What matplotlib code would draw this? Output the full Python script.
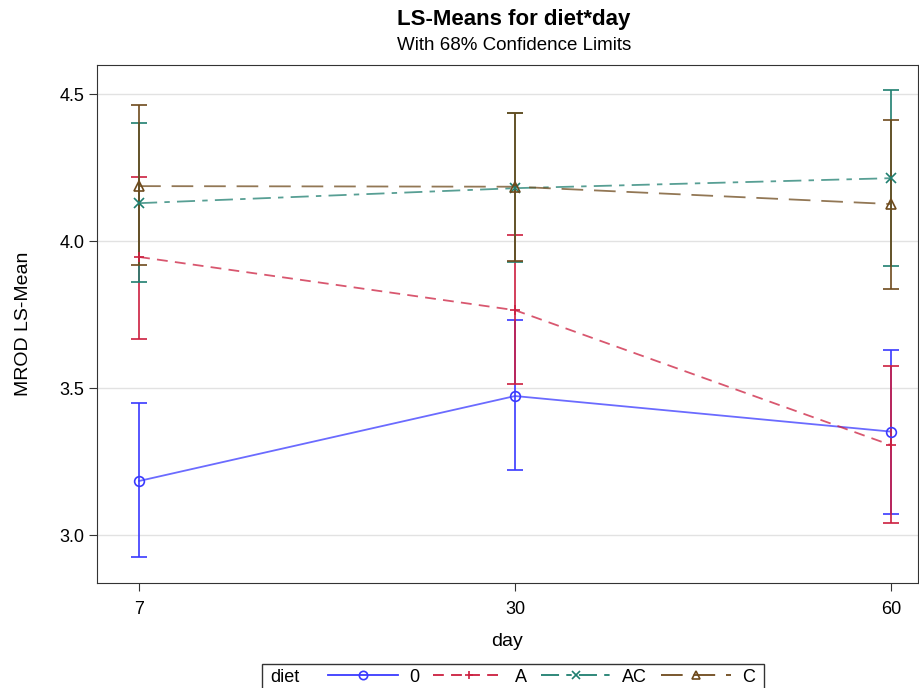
import matplotlib
matplotlib.use("Agg")
import matplotlib.pyplot as plt
from matplotlib.lines import Line2D
from matplotlib.patches import Rectangle

plt.rcParams['font.family'] = ['Liberation Sans', 'DejaVu Sans']

days = ["7", "30", "60"]
diets = ["0", "A", "AC", "C"]
means = {
    "0":  [3.184, 3.473, 3.352],
    "A":  [3.946, 3.765, 3.306],
    "AC": [4.129, 4.180, 4.214],
    "C":  [4.187, 4.185, 4.126],
}
upper = {
    "0":  [3.448, 3.731, 3.631],
    "A":  [4.218, 4.020, 3.575],
    "AC": [4.401, 4.435, 4.514],
    "C":  [4.463, 4.437, 4.412],
}
lower = {
    "0":  [2.925, 3.221, 3.071],
    "A":  [3.667, 3.514, 3.041],
    "AC": [3.861, 3.929, 3.915],
    "C":  [3.920, 3.931, 3.837],
}
colors = {"0": "#3a3aff", "A": "#cc1f3f", "AC": "#1f7f70", "C": "#6e4a1c"}
markers = {"0": "o", "A": "+", "AC": "x", "C": "^"}
linestyles = {"0": "-", "A": (0, (6, 4)), "AC": (0, (10, 4, 3, 4)), "C": (0, (12, 6))}

W, H = 920, 688
fig = plt.figure(figsize=(9.2, 6.88), dpi=100)
ax = fig.add_axes([97 / W, 1 - 583 / H, (918 - 97) / W, (583 - 65) / H])

x = list(range(len(days)))
for d in diets:
    c = colors[d]
    m = means[d]
    yerr = [[m[i] - lower[d][i] for i in x], [upper[d][i] - m[i] for i in x]]
    ax.errorbar(x, m, yerr=yerr, fmt='none', ecolor=c, elinewidth=1.2,
                capsize=5.5, capthick=1.2, zorder=3)
    ax.plot(x, m, color=c, linestyle=linestyles[d], linewidth=1.3, alpha=0.75, zorder=2)
    ax.plot(x, m, linestyle='none', marker=markers[d], markersize=7,
            markerfacecolor='none', markeredgecolor=c, markeredgewidth=1.2, zorder=4)

ax.set_xlim(-0.112, 2.072)
ax.set_ylim(2.837, 4.599)
ax.set_xticks(x)
ax.set_xticklabels(days)
ax.set_yticks([3.0, 3.5, 4.0, 4.5])
ax.set_yticklabels(["3.0", "3.5", "4.0", "4.5"])
ax.yaxis.grid(True, color="#e2e2e2", linewidth=1)
ax.set_axisbelow(True)
ax.tick_params(labelsize=13, length=6, color="#333333")
ax.tick_params(axis='x', pad=7)
ax.tick_params(axis='y', pad=3)
for s in ax.spines.values():
    s.set_color("#333333")
ax.set_xlabel("day", fontsize=14, labelpad=11)
ax.set_ylabel("MROD LS-Mean", fontsize=14, labelpad=20)

cx = 514 / W
fig.text(cx, 1 - 20 / H, "LS-Means for diet*day", ha='center', va='center',
         fontsize=16, fontweight='bold')
fig.text(cx, 1 - 46 / H, "With 68% Confidence Limits", ha='center', va='center',
         fontsize=13.5)

handles = []
for d in diets:
    handles.append(Line2D([], [], color=colors[d], linestyle=linestyles[d], linewidth=1.3,
                          marker=markers[d], markersize=6, markerfacecolor='none',
                          markeredgecolor=colors[d], markeredgewidth=1.2))
leg = fig.legend(handles, diets, loc='center left', bbox_to_anchor=(328 / W, 11 / H),
                 ncol=4, frameon=False, fontsize=13, handlelength=3.9,
                 handletextpad=0.6, columnspacing=0.78, borderpad=0, borderaxespad=0)
fig.canvas.draw()
bb = leg.get_window_extent()
x0 = 262
x1 = bb.x1 + 9
fig.text(270 / W, 11 / H, "diet", ha='left', va='center', fontsize=13)
fig.patches.append(Rectangle((x0 / W, -0.02), (x1 - x0) / W, 0.02 + 24 / H,
                             transform=fig.transFigure, fill=False,
                             edgecolor='#333333', linewidth=1, figure=fig))

fig.savefig("out.png", dpi=100)
